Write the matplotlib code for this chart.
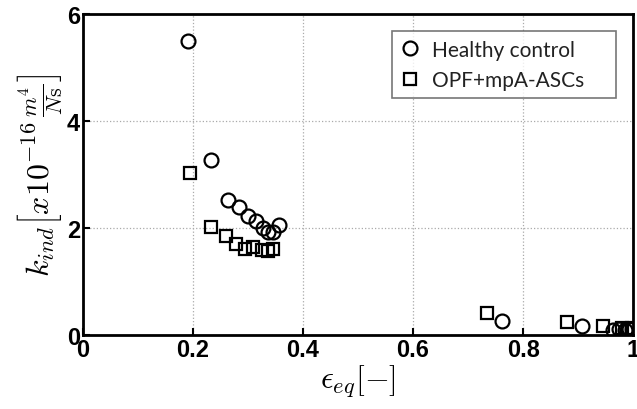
import matplotlib
matplotlib.use('Agg')
from matplotlib import pyplot as plt

# Healthy control (circles)
hc_eps = [0.192, 0.233, 0.263, 0.284, 0.301, 0.315, 0.328, 0.337, 0.346, 0.357,
          0.761, 0.907, 0.964, 0.975, 0.985, 0.992, 0.998]
hc_k = [5.50, 3.27, 2.53, 2.39, 2.23, 2.14, 2.01, 1.92, 1.92, 2.06,
        0.27, 0.17, 0.10, 0.12, 0.10, 0.12, 0.11]

# OPF+mpA-ASCs (squares)
opf_eps = [0.195, 0.233, 0.260, 0.279, 0.295, 0.310, 0.325, 0.337, 0.346,
           0.735, 0.879, 0.945, 0.980, 0.990, 0.997]
opf_k = [3.03, 2.02, 1.86, 1.70, 1.62, 1.64, 1.59, 1.58, 1.61,
         0.42, 0.25, 0.17, 0.13, 0.12, 0.13]

plt.rcParams['mathtext.fontset'] = 'cm'
plt.rcParams['font.family'] = ['Liberation Sans', 'DejaVu Sans']

fig = plt.figure(figsize=(6.37, 4.10), dpi=100)
ax = fig.add_axes([0.130, 0.180, 0.864, 0.783])

ax.plot(hc_eps, hc_k, 'o', mfc='none', mec='black', mew=1.6, ms=10, label='Healthy control')
ax.plot(opf_eps, opf_k, 's', mfc='none', mec='black', mew=1.6, ms=9, label='OPF+mpA-ASCs')

ax.set_xlim(0, 1)
ax.set_ylim(0, 6)
ax.set_xticks([0, 0.2, 0.4, 0.6, 0.8, 1])
ax.set_xticklabels(['0', '0.2', '0.4', '0.6', '0.8', '1'])
ax.set_yticks([0, 2, 4, 6])
ax.grid(True, linestyle=':', color='#aaaaaa', linewidth=0.9)
ax.tick_params(direction='in', length=5, width=1.5, labelsize=17, pad=2)
for lbl in ax.get_xticklabels() + ax.get_yticklabels():
    lbl.set_fontweight('bold')
for s in ax.spines.values():
    s.set_linewidth(2)

ax.set_xlabel(r'$\epsilon_{eq}[-]$', fontsize=23, labelpad=1)
ax.set_ylabel(r'$k_{ind}\left[x10^{-16}\,\frac{m^4}{N\mathrm{s}}\right]$', fontsize=23, labelpad=1)

# MATLAB-style legend: wide box with text left-aligned
leg = ax.legend(loc='upper left', bbox_to_anchor=(0.562, 0.747, 0.407, 0.2), mode='expand',
                prop={'family': 'Lato', 'size': 15}, labelcolor='#222222',
                frameon=True, fancybox=False, edgecolor='#555555', handlelength=0.9,
                handletextpad=0.6, borderpad=0.4, labelspacing=0.5, borderaxespad=0)
leg.get_frame().set_linewidth(1.2)

fig.savefig('out.png', dpi=100)
